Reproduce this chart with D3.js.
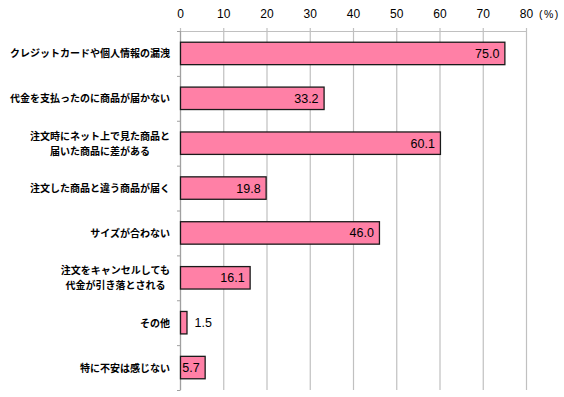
<!DOCTYPE html>
<html>
<head>
<meta charset="utf-8">
<script src="https://cdn.jsdelivr.net/npm/d3@7"></script>
<style>
  body { margin: 0; background: #fff; }
  svg text { font-family: Arial, "Liberation Sans", "Noto Sans CJK JP", sans-serif; }
</style>
</head>
<body>
<figure id="barChart" style="margin:0"></figure>
<script>
// categories (multi-line labels split by \n)
const categories = [
  "クレジットカードや個人情報の漏洩",
  "代金を支払ったのに商品が届かない",
  "注文時にネット上で見た商品と\n届いた商品に差がある",
  "注文した商品と違う商品が届く",
  "サイズが合わない",
  "注文をキャンセルしても\n代金が引き落とされる",
  "その他",
  "特に不安は感じない"
];
const values = [75.0, 33.2, 60.1, 19.8, 46.0, 16.1, 1.5, 5.7];
const xTicks = [0, 10, 20, 30, 40, 50, 60, 70, 80];

const width = 564, height = 397;
const margin = {top: 31, right: 38, bottom: 7, left: 180};
const innerW = width - margin.left - margin.right;
const innerH = height - margin.top - margin.bottom;

const svg = d3.select('figure#barChart')
  .append('svg')
  .attr('width', width)
  .attr('height', height)
  .append('g')
  .attr('transform', 'translate(' + margin.left + ',' + margin.top + ')');

const x = d3.scaleLinear().domain([0, 80]).range([0, 346]);
const y = d3.scaleBand().domain(categories).range([0, innerH]).paddingInner(0.5).paddingOuter(0.25);

// vertical grid lines
svg.append('g').attr('class', 'grid')
  .selectAll('line')
  .data(xTicks)
  .enter().append('line')
  .attr('x1', d => x(d) + 0.5).attr('x2', d => x(d) + 0.5)
  .attr('y1', -3).attr('y2', innerH)
  .attr('stroke', '#c0c0c0')
  .attr('stroke-width', 1.2);

// top axis line
svg.append('line')
  .attr('x1', 0).attr('x2', x(80) + 0.5)
  .attr('y1', 0.5).attr('y2', 0.5)
  .attr('stroke', '#c0c0c0')
  .attr('stroke-width', 1.2);

// top tick labels
svg.append('g').attr('class', 'x-labels')
  .selectAll('text')
  .data(xTicks)
  .enter().append('text')
  .attr('x', d => x(d) + 0.5)
  .attr('y', -13)
  .attr('text-anchor', 'middle')
  .attr('font-size', 12)
  .attr('fill', '#000')
  .text(d => d);

svg.append('text')
  .attr('x', x(80) + 13)
  .attr('y', -13)
  .attr('font-size', 10.5)
  .attr('letter-spacing', 1.5)
  .text('(%)');

// left axis with band boundary ticks
const bounds = d3.range(categories.length + 1).map(i => i * innerH / categories.length);
svg.append('line')
  .attr('x1', 0.5).attr('x2', 0.5)
  .attr('y1', 0).attr('y2', innerH)
  .attr('stroke', '#a0a0a0')
  .attr('stroke-width', 1.2);
svg.append('g').selectAll('line')
  .data(bounds)
  .enter().append('line')
  .attr('x1', -3).attr('x2', 0.5)
  .attr('y1', d => d + 0.5).attr('y2', d => d + 0.5)
  .attr('stroke', '#a0a0a0');

// bars
svg.append('g').attr('class', 'bars')
  .selectAll('rect')
  .data(values)
  .enter().append('rect')
  .attr('x', 0.5)
  .attr('y', (d, i) => y(categories[i]))
  .attr('width', d => x(d))
  .attr('height', y.bandwidth())
  .attr('fill', '#ff80a6')
  .attr('stroke', '#1a1a1a')
  .attr('stroke-width', 1.3);

// value labels
svg.append('g').attr('class', 'values')
  .selectAll('text')
  .data(values)
  .enter().append('text')
  .attr('x', d => d < 4 ? x(d) + 8 : x(d) - 5)
  .attr('y', (d, i) => y(categories[i]) + y.bandwidth() / 2 + 4.5)
  .attr('text-anchor', d => d < 4 ? 'start' : 'end')
  .attr('font-size', 12.5)
  .attr('fill', '#000')
  .text(d => d.toFixed(1));

// category labels: multi-line ones are centred on their longest line, right edge at -10
const labels = svg.append('g').attr('class', 'y-labels')
  .selectAll('text')
  .data(categories)
  .enter().append('text')
  .attr('text-anchor', d => d.includes('\n') ? 'middle' : 'end')
  .attr('font-size', 10)
  .attr('font-weight', 'bold')
  .attr('font-family', '"Noto Sans CJK JP", sans-serif')
  .attr('fill', '#000')
  .attr('transform', d => 'translate(0,' + (y(d) + y.bandwidth() / 2) + ')');

labels.each(function(d) {
  const lines = d.split('\n');
  const t = d3.select(this);
  const spans = lines.map((ln, j) => t.append('tspan')
      .attr('x', -10)
      .attr('y', (j - (lines.length - 1) / 2) * 15 + 4)
      .text(ln));
  if (lines.length > 1) {
    const maxW = d3.max(spans, s => s.node().getComputedTextLength());
    spans.forEach(s => s.attr('x', -10 - maxW / 2));
  }
});
</script>
</body>
</html>
